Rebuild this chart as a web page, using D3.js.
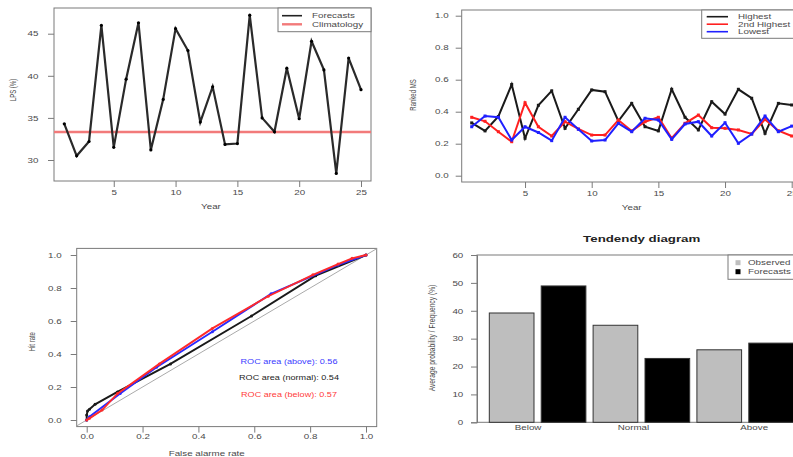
<!DOCTYPE html>
<html><head><meta charset="utf-8">
<script src="https://cdn.jsdelivr.net/npm/d3@7"></script>
<style>
body{margin:0;background:#fff}
svg text{font-family:"Liberation Sans",Arial,sans-serif;fill:#4a4a4a}
</style></head><body>
<svg id="c" width="793" height="457"></svg>
<script>
// ---------- DATA ----------
const years=[1,2,3,4,5,6,7,8,9,10,11,12,13,14,15,16,17,18,19,20,21,22,23,24,25];
const yearTicks=[5,10,15,20,25];
const lpsForecast=[34.3,30.5,32.2,46.0,31.5,39.6,46.3,31.2,37.2,45.6,43.0,34.5,38.7,31.85,31.95,47.2,35.0,33.35,40.9,34.9,44.1,40.7,28.4,42.1,38.35];
const lpsClimatology=33.33;
const lpsTicks=[30,35,40,45];

const rankHighest=[0.33,0.28,0.37,0.57,0.234,0.44,0.53,0.296,0.415,0.536,0.525,0.342,0.452,0.306,0.28,0.54,0.365,0.286,0.4625,0.385,0.54,0.484,0.265,0.452,0.442];
const rankSecond=[0.365,0.34,0.275,0.2125,0.456,0.306,0.248,0.3375,0.292,0.254,0.254,0.348,0.28,0.3375,0.365,0.234,0.3275,0.379,0.3,0.296,0.286,0.261,0.352,0.281,0.248];
const rankLowest=[0.306,0.373,0.365,0.223,0.306,0.27,0.219,0.365,0.29,0.217,0.223,0.327,0.275,0.359,0.348,0.227,0.323,0.3375,0.248,0.331,0.2025,0.26,0.373,0.275,0.31];
const rankTicks=[0,0.2,0.4,0.6,0.8,1.0];
const rankNames=["Highest","2nd Highest","Lowest"];

const rocAboveFar=[0,0.01,0.12,0.25,0.45,0.66,0.9,1];
const rocAboveHit=[0,0.02,0.16,0.32,0.535,0.765,0.94,1];
const rocNormalFar=[0,0.0,0.003,0.01,0.03,0.11,0.3,0.59,0.82,1];
const rocNormalHit=[0,0.03,0.055,0.065,0.095,0.17,0.34,0.63,0.875,1];
const rocBelowFar=[0,0.01,0.055,0.11,0.26,0.45,0.65,0.81,0.9,0.95,1];
const rocBelowHit=[0,0.01,0.06,0.16,0.34,0.555,0.75,0.88,0.945,0.98,1];
const rocTicks=[0,0.2,0.4,0.6,0.8,1.0];
const rocLabels=["ROC area (above): 0.56","ROC area (normal): 0.54","ROC area (below): 0.57"];

const tendCategories=["Below","Normal","Above"];
const tendObserved=[39.2,34.8,26.0];
const tendForecast=[48.9,22.9,28.4];
const tendTicks=[0,10,20,30,40,50,60];
const tendNames=["Observed","Forecasts"];

// ---------- HELPERS ----------
const SX=1.4;
const svg=d3.select("#c");
const AX="#7a7a7a";
function label(g,x,y,s,o={}){
  const size=o.size||7, rot=o.rot?" rotate(-90)":"";
  return g.append("text").attr("transform",`translate(${x},${y}) scale(${SX},1)${rot}`)
    .attr("text-anchor",o.anchor||"middle").attr("dominant-baseline","central")
    .style("font-size",size+"px").style("font-weight",o.bold?"bold":"normal")
    .style("fill",o.fill||"#4a4a4a").text(s);
}
function styleAxis(ax,keepDomain){
  ax.selectAll("line").attr("stroke",AX).attr("stroke-width",1);
  if(keepDomain) ax.select(".domain").attr("stroke",AX); else ax.select(".domain").remove();
  ax.selectAll("text").each(function(){
    const t=d3.select(this);
    const x=+t.attr("x")||0,y=+t.attr("y")||0;
    t.attr("x",null).attr("y",null).attr("transform",`translate(${x},${y}) scale(${SX},1)`)
     .style("font-size","7px").style("fill","#4a4a4a");
  });
  ax.attr("font-family",null).attr("font-size",null);
}
function box(x0,y0,x1,y1){
  svg.append("rect").attr("x",x0).attr("y",y0).attr("width",x1-x0).attr("height",y1-y0)
    .attr("fill","none").attr("stroke",AX).attr("stroke-width",1);
}

// ---------- PANEL 1: LPS ----------
{
  const x=d3.scaleLinear().domain([1,25]).range([64.3,361]);
  const y=d3.scaleLinear().domain([30,45]).range([160,33.7]);
  const B=[54,8,371,181];
  box(...B);
  const ya=svg.append("g").attr("transform",`translate(${B[0]},0)`)
    .call(d3.axisLeft(y).tickValues(lpsTicks).tickFormat(d3.format("d")).tickSize(6).tickPadding(9.5));
  styleAxis(ya);
  const xa=svg.append("g").attr("transform",`translate(0,${B[3]})`)
    .call(d3.axisBottom(x).tickValues(yearTicks).tickFormat(d3.format("d")).tickSize(6).tickPadding(3.2));
  styleAxis(xa);
  svg.append("line").attr("x1",B[0]).attr("x2",B[2]).attr("y1",y(lpsClimatology)).attr("y2",y(lpsClimatology))
    .attr("stroke","#f27a7a").attr("stroke-width",2.6);
  svg.append("path").datum(years).attr("fill","none").attr("stroke","#2a2a2a").attr("stroke-width",2.2)
    .attr("d",d3.line().x(d=>x(d)).y((d,i)=>y(lpsForecast[i])));
  svg.append("g").selectAll("circle").data(years).join("circle")
    .attr("cx",d=>x(d)).attr("cy",(d,i)=>y(lpsForecast[i])).attr("r",1.6).attr("fill","#000");
  const lg=svg.append("g");
  lg.append("rect").attr("x",278).attr("y",B[1]).attr("width",B[2]-278).attr("height",23.7)
    .attr("fill","#fff").attr("stroke",AX);
  [["Forecasts","#222",1.6],["Climatology","#f27a7a",2.4]].forEach((e,i)=>{
    const yy=15.7+i*8.6;
    lg.append("line").attr("x1",282).attr("x2",302).attr("y1",yy).attr("y2",yy).attr("stroke",e[1]).attr("stroke-width",e[2]);
    label(lg,312,yy,e[0],{anchor:"start"});
  });
  label(svg,13,90,"LPS (%)",{rot:true,size:6});
  label(svg,211,207,"Year");
}

// ---------- PANEL 2: Ranked ----------
{
  const x=d3.scaleLinear().domain([1,25]).range([471.7,791.7]);
  const y=d3.scaleLinear().domain([0,1]).range([175.7,15.7]);
  const B=[461.7,10,802,182];
  box(...B);
  const ya=svg.append("g").attr("transform",`translate(${B[0]},0)`)
    .call(d3.axisLeft(y).tickValues(rankTicks).tickFormat(d3.format(".1f")).tickSize(6).tickPadding(7));
  styleAxis(ya);
  const xa=svg.append("g").attr("transform",`translate(0,${B[3]})`)
    .call(d3.axisBottom(x).tickValues(yearTicks).tickFormat(d3.format("d")).tickSize(6).tickPadding(2.8));
  styleAxis(xa);
  const series=[[rankHighest,"#1a1a1a"],[rankSecond,"#ff2020"],[rankLowest,"#2020ff"]];
  series.forEach(([vals,col])=>{
    svg.append("path").datum(years).attr("fill","none").attr("stroke",col).attr("stroke-width",2)
      .attr("d",d3.line().x(d=>x(d)).y((d,i)=>y(vals[i])));
    svg.append("g").selectAll("rect").data(years).join("rect")
      .attr("x",d=>x(d)-1.5).attr("y",(d,i)=>y(vals[i])-1.5).attr("width",3).attr("height",3).attr("fill",col);
  });
  const lg=svg.append("g");
  lg.append("rect").attr("x",701.7).attr("y",B[1]).attr("width",110).attr("height",28.3)
    .attr("fill","#fff").attr("stroke",AX);
  rankNames.forEach((n,i)=>{
    const yy=16.7+i*7.5;
    lg.append("line").attr("x1",706.7).attr("x2",728).attr("y1",yy).attr("y2",yy).attr("stroke",series[i][1]).attr("stroke-width",1.6);
    label(lg,738,yy,n,{anchor:"start"});
  });
  label(svg,413,95,"Ranked MS",{rot:true,size:6});
  label(svg,631.7,208,"Year");
}

// ---------- PANEL 3: ROC ----------
{
  const x=d3.scaleLinear().domain([0,1]).range([86.7,366]);
  const y=d3.scaleLinear().domain([0,1]).range([420,255]);
  const B=[76.7,248.4,376.7,426.6];
  box(...B);
  const ya=svg.append("g").attr("transform",`translate(${B[0]},0)`)
    .call(d3.axisLeft(y).tickValues(rocTicks).tickFormat(d3.format(".1f")).tickSize(6).tickPadding(9));
  styleAxis(ya);
  const xa=svg.append("g").attr("transform",`translate(0,${B[3]})`)
    .call(d3.axisBottom(x).tickValues(rocTicks).tickFormat(d3.format(".1f")).tickSize(6).tickPadding(1.8));
  styleAxis(xa);
  svg.append("line").attr("x1",x(x.invert(B[0]))).attr("y1",y(x.invert(B[0])))
    .attr("x2",x(x.invert(B[2]))).attr("y2",y(x.invert(B[2])))
    .attr("stroke","#aaa").attr("stroke-width",1);
  const curves=[[rocNormalFar,rocNormalHit,"#1a1a1a"],[rocAboveFar,rocAboveHit,"#2a2aff"],[rocBelowFar,rocBelowHit,"#ff2a2a"]];
  curves.forEach(([fa,hr,col])=>{
    svg.append("path").datum(fa).attr("fill","none").attr("stroke",col).attr("stroke-width",1.9)
      .attr("d",d3.line().x(d=>x(d)).y((d,i)=>y(hr[i])));
    svg.append("g").selectAll("circle").data(fa).join("circle")
      .attr("cx",d=>x(d)).attr("cy",(d,i)=>y(hr[i])).attr("r",1.5).attr("fill",col);
  });
  const cols=["#3a3aff","#222","#ff3a3a"];
  rocLabels.forEach((s,i)=>label(svg,289,361.7+i*16.7,s,{fill:cols[i],size:6.5}));
  label(svg,31.7,341.7,"Hit rate",{rot:true,size:6});
  label(svg,206.7,453.3,"False alarme rate");
}

// ---------- PANEL 4: Tendency ----------
{
  const keys=[];
  tendCategories.forEach(c=>{keys.push(c+"|obs");keys.push(c+"|fc");});
  const x=d3.scaleBand().domain(keys).range([485.7,797.1]).paddingInner(0.139).paddingOuter(0.0695);
  const y=d3.scaleLinear().domain([0,60]).range([422.3,255]);
  const B=[477,255,805,422.3];
  box(...B);
  const ya=svg.append("g").attr("transform",`translate(${B[0]},0)`)
    .call(d3.axisLeft(y).tickValues(tendTicks).tickFormat(d3.format("d")).tickSize(6).tickPadding(7.7));
  styleAxis(ya,true);
  const bars=[];
  tendCategories.forEach((c,i)=>{
    bars.push({k:c+"|obs",v:tendObserved[i],f:"#bebebe"});
    bars.push({k:c+"|fc",v:tendForecast[i],f:"#000"});
  });
  svg.append("g").selectAll("rect").data(bars).join("rect")
    .attr("x",d=>x(d.k)).attr("y",d=>y(d.v)).attr("width",x.bandwidth()).attr("height",d=>y(0)-y(d.v))
    .attr("fill",d=>d.f).attr("stroke","#333").attr("stroke-width",1);
  const labelShift=[-9.5,-8,9];
  tendCategories.forEach((c,i)=>{
    const cx=(x(c+"|obs")+x(c+"|fc")+x.bandwidth())/2+labelShift[i];
    label(svg,cx,427.3,c);
  });
  const lg=svg.append("g");
  lg.append("rect").attr("x",728).attr("y",255).attr("width",80).attr("height",24.3)
    .attr("fill","#fff").attr("stroke",AX);
  tendNames.forEach((n,i)=>{
    const yy=262.7+i*9;
    lg.append("rect").attr("x",735.5).attr("y",yy-2.5).attr("width",5).attr("height",5)
      .attr("fill",i?"#000":"#bebebe");
    label(lg,748,yy,n,{anchor:"start"});
  });
  label(svg,641.7,239,"Tendendy diagram",{bold:true,size:9.5,fill:"#222"});
  label(svg,431.7,338,"Average probability / Frequency (%)",{rot:true,size:6.7});
}
</script>
</body></html>
